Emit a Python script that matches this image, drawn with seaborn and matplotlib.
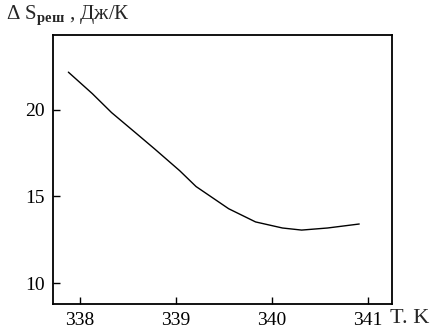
import matplotlib
matplotlib.use("Agg")
import matplotlib.pyplot as plt
import seaborn as sns
import pandas as pd

T = [337.88, 338.13, 338.33, 338.59, 338.78, 339.04, 339.21, 339.55, 339.83, 340.11, 340.31, 340.58, 340.91]
S = [22.16, 20.92, 19.83, 18.62, 17.73, 16.48, 15.57, 14.29, 13.53, 13.18, 13.06, 13.18, 13.41]
xticks = [338, 339, 340, 341]
yticks = [10, 15, 20]

sns.set_style("ticks")
plt.rcParams['font.family'] = ['Liberation Serif', 'DejaVu Serif']
plt.rcParams['mathtext.fontset'] = 'custom'
plt.rcParams['mathtext.rm'] = 'Liberation Serif'
plt.rcParams['mathtext.it'] = 'Liberation Serif'
plt.rcParams['mathtext.bf'] = 'Liberation Serif:bold'

fig = plt.figure(figsize=(4.33, 3.35), dpi=100)
ax = fig.add_axes([0.1224, 0.0925, 0.7826, 0.803])
df = pd.DataFrame({"T": T, "S": S})
sns.lineplot(data=df, x="T", y="S", ax=ax, color="black", linewidth=1.0, sort=False)

ax.set_xlim(337.72, 341.25)
ax.set_ylim(8.8, 24.3)
ax.set_xticks(xticks)
ax.set_yticks(yticks)
ax.set_xticklabels([str(v) for v in xticks], fontsize=14)
ax.set_yticklabels([str(v) for v in yticks], fontsize=14)
ax.tick_params(direction="in", length=5, width=1.0, colors="black", pad=6)
ax.set_xlabel("")
ax.set_ylabel("")
for s in ax.spines.values():
    s.set_linewidth(1.3)
    s.set_color("black")

fig.text(0.015, 0.955, r"Δ S$_{\mathbf{реш}}$ , Дж/К", fontsize=15, ha="left", va="center")
fig.text(0.9, 0.05, "T. K", fontsize=16, ha="left", va="center")

fig.savefig("out.png", dpi=100)
